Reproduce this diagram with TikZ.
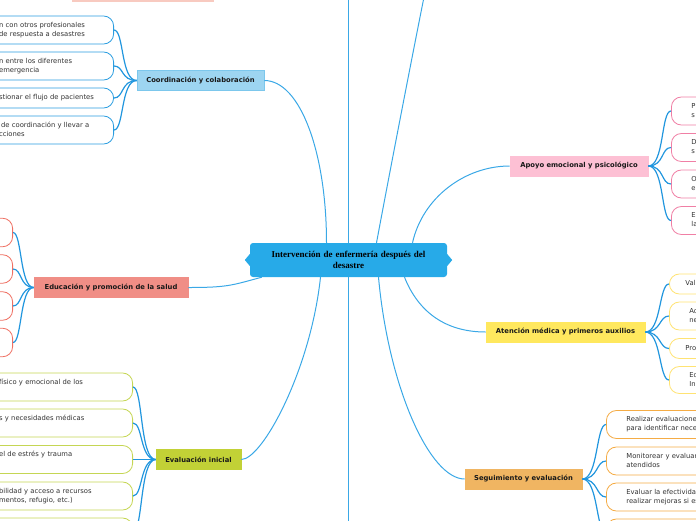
\documentclass[tikz,border=0pt]{standalone}
\usepackage{fontspec}
\setmainfont{DejaVu Sans}
\newfontfamily\titlefont{Liberation Serif}
\usetikzlibrary{positioning}
\definecolor{mapink}{HTML}{333333}
\definecolor{mapcore}{HTML}{27AAE8}
\definecolor{wireblue}{HTML}{3AA8E6}
\definecolor{twigblue}{HTML}{2196DE}
\definecolor{coordfill}{HTML}{9DD5F1}
\definecolor{coorddraw}{HTML}{7CC7EC}
\definecolor{coordleaf}{HTML}{2A9DE0}
\definecolor{edufill}{HTML}{F08E86}
\definecolor{eduleaf}{HTML}{EF6F62}
\definecolor{evalfill}{HTML}{C2D136}
\definecolor{evalleaf}{HTML}{C5D653}
\definecolor{apoyofill}{HTML}{FDC0D4}
\definecolor{apoyoleaf}{HTML}{F07FA5}
\definecolor{atenfill}{HTML}{FFE85E}
\definecolor{atenleaf}{HTML}{FFE373}
\definecolor{segfill}{HTML}{F0B562}
\definecolor{segleaf}{HTML}{F5AC45}
\definecolor{topbar}{HTML}{F8CAC0}

\begin{document}
\begin{tikzpicture}[x=1pt, y=-1pt,
    every node/.style={text=mapink, font=\fontsize{6.8}{9}\selectfont},
    core/.style={fill=mapcore, rounded corners=3pt, minimum width=197pt,
                 minimum height=34pt, inner sep=0pt, text width=185pt,
                 align=center, text=black,
                 font=\titlefont\bfseries\fontsize{9}{10.5}\selectfont},
    topic/.style={line width=0.6pt, minimum height=20pt, inner sep=0pt,
                  text=black!90, font=\fontsize{6.8}{9}\selectfont\bfseries},
    leafL/.style={draw=#1, line width=0.8pt, fill=white, rounded corners=10pt,
                  anchor=east, inner xsep=10pt, inner ysep=0pt, align=left,
                  execute at begin node=\strut, execute at end node=\strut},
    leafR/.style={draw=#1, line width=0.8pt, fill=white, rounded corners=10pt,
                  anchor=west, inner xsep=20pt, inner ysep=0pt, align=left,
                  text width=150pt,
                  execute at begin node=\strut, execute at end node=\strut},
    wire/.style={draw=wireblue, line width=1pt},
    twig/.style={draw=twigblue, line width=1.2pt}]

  \useasboundingbox (0,0) rectangle (696,520);
  \clip (0,0) rectangle (696,520);

  %% resto de un nodo fuera del marco
  \fill[topbar] (72,-5) rectangle (214,1.5);

  %% nodo central
  \node[core] (core) at (348.5,260)
    {Intervención de enfermería después del\\desastre};
  \fill[mapcore] (core.west) ++(0,-6) -- ++(-5,6) -- ++(5,6) -- cycle;
  \fill[mapcore] (core.east) ++(0,-6) -- ++(5,6) -- ++(-5,6) -- cycle;

  %% temas principales
  \node[topic, fill=coordfill, draw=coorddraw, minimum width=127pt]
    (coord) at (200.5,80.5) {Coordinación y colaboración};
  \node[topic, fill=edufill, draw=edufill, minimum width=154pt]
    (edu) at (111,287.5) {Educación y promoción de la salud};
  \node[topic, fill=evalfill, draw=evalfill, minimum width=85pt]
    (eval) at (198.5,459.5) {Evaluación inicial};
  \node[topic, fill=apoyofill, draw=apoyofill, minimum width=138pt]
    (apoyo) at (579,166) {Apoyo emocional y psicológico};
  \node[topic, fill=atenfill, draw=atenfill, minimum width=159pt]
    (aten) at (565.5,332) {Atención médica y primeros auxilios};
  \node[topic, fill=segfill, draw=segfill, minimum width=117pt]
    (segu) at (523.5,479) {Seguimiento y evaluación};

  %% ramas fuera del marco
  \coordinate (upA) at (348.5,-10);
  \coordinate (upB) at (425,-8);
  \coordinate (downA) at (348.5,530);
  \draw[wire, line width=1.3pt] (core.north) -- (upA);
  \draw[wire, line width=1.3pt] (core.south) -- (downA);
  \draw[wire] ([xshift=28pt]core.north) .. controls +(14,-75) and +(-12,60) .. (upB);

  %% ramas del nodo central
  \draw[wire] (coord.east) .. controls +(36,0) and +(0,-90) .. ([xshift=-22pt]core.north);
  \draw[wire] ([xshift=64pt]core.north) .. controls +(10,-45) and +(-45,0) .. (apoyo.west);
  \draw[wire] (edu.east) .. controls +(40,0) and +(-30,8) .. ([xshift=12pt]core.south west);
  \draw[wire] ([xshift=56pt]core.south) .. controls +(14,35) and +(-40,0) .. (aten.west);
  \draw[wire] ([xshift=-28pt]core.south) .. controls +(-10,93) and +(21,0) .. (eval.east);
  \draw[wire] ([xshift=30pt]core.south) .. controls +(10,110) and +(-35,0) .. (segu.west);

  %% hojas: Coordinación y colaboración
  \node[leafL=coordleaf, text width=104.5pt, minimum height=28pt] (c1) at (114,30)
    {n con otros profesionales\\de respuesta a desastres};
  \node[leafL=coordleaf, text width=104.5pt, minimum height=28pt] (c2) at (114,66)
    {n entre los diferentes\\emergencia};
  \node[leafL=coordleaf, text width=104.5pt, minimum height=20pt] (c3) at (114,98)
    {stionar el flujo de pacientes};
  \node[leafL=coordleaf, text width=104.5pt, minimum height=28pt] (c4) at (114,130)
    {\hspace*{2pt}de coordinación y llevar a\\cciones};
  \foreach \k in {1,...,4}
    \draw[twig] (coord.west) .. controls +(-16,0) and +(10,0) .. (c\k.east);

  %% hojas: Educación y promoción de la salud
  \foreach \k/\yy in {1/232.5, 2/269, 3/306, 4/342.5} {
    \node[leafL=eduleaf, text width=60pt, minimum height=28.5pt] (e\k) at (13,\yy) {};
    \draw[twig] (edu.west) .. controls +(-14,0) and +(9,0) .. (e\k.east);
  }

  %% hojas: Evaluación inicial
  \node[leafL=evalleaf, text width=123.5pt, minimum height=28pt] (v1) at (133,387)
    {físico y emocional de los\\\mbox{}};
  \node[leafL=evalleaf, text width=123.5pt, minimum height=28pt] (v2) at (133,423)
    {s y necesidades médicas\\\mbox{}};
  \node[leafL=evalleaf, text width=123.5pt, minimum height=28pt] (v3) at (133,459.5)
    {el de estrés y trauma\\\mbox{}};
  \node[leafL=evalleaf, text width=123.5pt, minimum height=28pt] (v4) at (133,496)
    {bilidad y acceso a recursos\\mentos, refugio, etc.)};
  \node[leafL=evalleaf, text width=123.5pt, minimum height=28pt] (v5) at (133,532)
    {\mbox{}\\\mbox{}};
  \foreach \k in {1,...,5}
    \draw[twig] (eval.west) .. controls +(-16,0) and +(10,0) .. (v\k.east);

  %% hojas: Apoyo emocional y psicológico
  \node[leafR=apoyoleaf, minimum height=28pt] (p1) at (671,111) {P\\s};
  \node[leafR=apoyoleaf, minimum height=28pt] (p2) at (671,147.5) {D\\s};
  \node[leafR=apoyoleaf, minimum height=28pt] (p3) at (671,184) {O\\e};
  \node[leafR=apoyoleaf, minimum height=28pt] (p4) at (671,220.5) {E\\la};
  \foreach \k in {1,...,4}
    \draw[twig] (apoyo.east) .. controls +(16,0) and +(-10,0) .. (p\k.west);

  %% hojas: Atención médica y primeros auxilios
  \node[leafR=atenleaf, inner xsep=16pt, minimum height=20pt] (a1) at (669,284) {Val};
  \node[leafR=atenleaf, minimum height=28pt] (a2) at (669,316) {Ad\\ne};
  \node[leafR=atenleaf, inner xsep=16pt, minimum height=20pt] (a3) at (669,348.5) {Pro};
  \node[leafR=atenleaf, minimum height=27pt] (a4) at (669,380) {Ed\\In};
  \foreach \k in {1,...,4}
    \draw[twig] (aten.east) .. controls +(16,0) and +(-10,0) .. (a\k.west);

  %% hojas: Seguimiento y evaluación
  \node[leafR=segleaf, minimum height=28pt] (s1) at (606,424.5)
    {Realizar evaluaciones\\para identificar necesidades};
  \node[leafR=segleaf, minimum height=28pt] (s2) at (606,461)
    {Monitorear y evaluar\\atendidos};
  \node[leafR=segleaf, minimum height=28pt] (s3) at (606,497)
    {Evaluar la efectividad\\realizar mejoras si es};
  \node[leafR=segleaf, minimum height=28pt] (s4) at (606,533)
    {\mbox{}\\\mbox{}};
  \foreach \k in {1,...,4}
    \draw[twig] (segu.east) .. controls +(16,0) and +(-10,0) .. (s\k.west);

\end{tikzpicture}
\end{document}
